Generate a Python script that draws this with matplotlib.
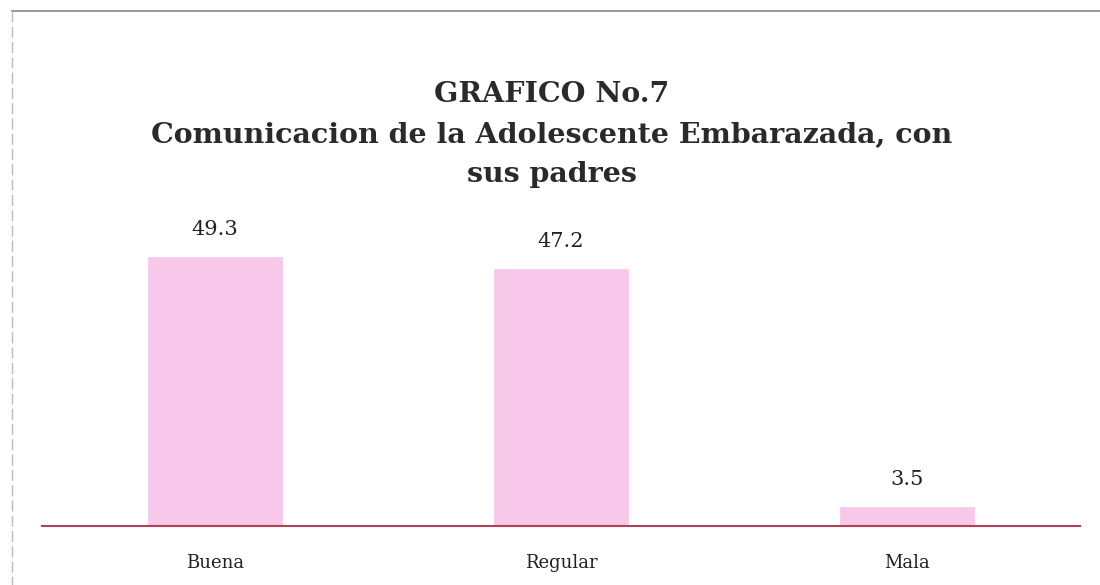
import matplotlib
matplotlib.use("Agg")
import matplotlib.pyplot as plt
from matplotlib.lines import Line2D

categories = ["Buena", "Regular", "Mala"]
values = [49.3, 47.2, 3.5]
title_lines = ["GRAFICO No.7", "Comunicacion de la Adolescente Embarazada, con", "sus padres"]

fig = plt.figure(figsize=(11, 5.85), dpi=100)
fig.patch.set_facecolor("white")

ax = fig.add_axes([42/1100, 59/585, 1038/1100, 327/585])
x = list(range(len(categories)))
ax.bar(x, values, width=0.39, color="#F7C8EA", edgecolor="#F7C8EA", linewidth=0.5)
ax.set_xlim(-0.5, 2.5)
ax.set_ylim(0, 60)
for s in ["top", "right", "left"]:
    ax.spines[s].set_visible(False)
ax.spines["bottom"].set_color("#B04058")
ax.spines["bottom"].set_linewidth(1.5)
ax.set_yticks([])
ax.set_xticks(x)
ax.set_xticklabels(categories, fontsize=13, family="DejaVu Serif", color="#222222")
ax.tick_params(axis="x", length=0, pad=20)
for xi, v in zip(x, values):
    ax.annotate(f"{v}", (xi, v), xytext=(0, 13), textcoords="offset points",
                ha="center", va="bottom", fontsize=15, family="DejaVu Serif", color="#222222")

ys = [95, 135, 175]
for t, y in zip(title_lines, ys):
    fig.text(552/1100, 1 - y/585, t, ha="center", va="center", fontsize=20.5,
             fontweight="bold", family="DejaVu Serif", color="#2a2a2a")

# frame border
fig.add_artist(Line2D([12/1100, 1.0], [1 - 11/585, 1 - 11/585], color="#888888", lw=1.2, transform=fig.transFigure))
fig.add_artist(Line2D([12/1100, 12/1100], [1 - 11/585, 0.0], color="#bbbbbb", lw=1.0, ls=(0, (8, 3)), transform=fig.transFigure))

fig.savefig("out.png", dpi=100)
